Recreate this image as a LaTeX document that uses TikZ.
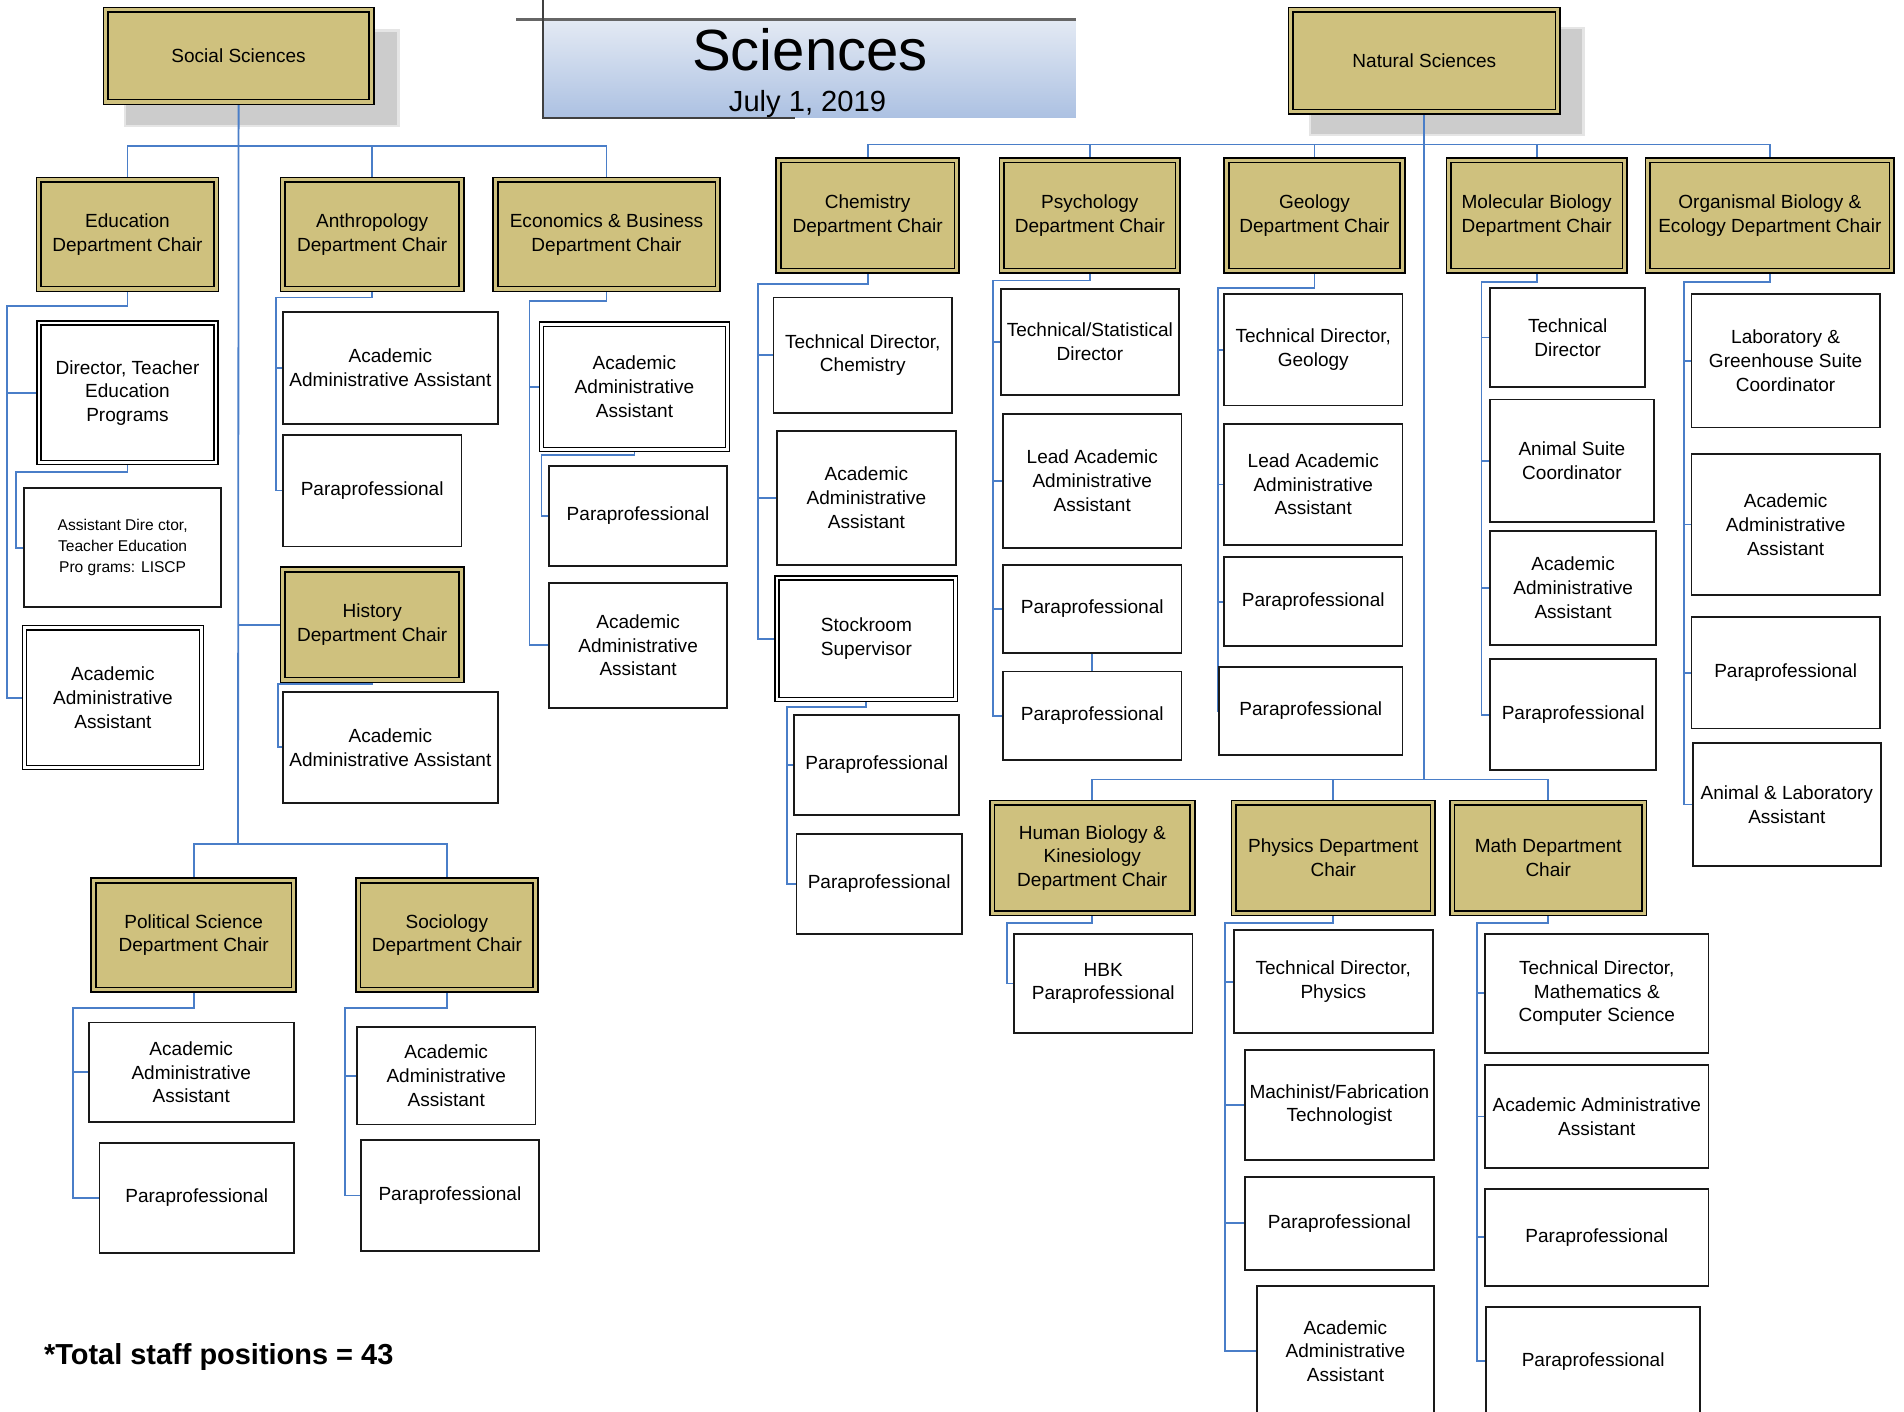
\documentclass[tikz,border=0pt]{standalone}
\usepackage{fontspec}
\setmainfont{Liberation Sans}
\usetikzlibrary{backgrounds}
\definecolor{goldc}{RGB}{207,193,126}
\definecolor{linec}{RGB}{74,126,200}
\definecolor{ttop}{RGB}{228,234,244}
\definecolor{tbot}{RGB}{172,193,226}
\newcommand\bx[7]{\node[#6, minimum width={(#4-#2)*0.6pt}, minimum height={(#5-#3)*0.6pt}] (#1) at ({(#2+#4)/2},{(#3+#5)/2}) {#7};}
\begin{document}
\begin{tikzpicture}[x=0.6pt,y=-0.6pt,
  base/.style={inner sep=1pt, outer sep=0pt, align=center, font=\fontsize{9.4}{11.7}\selectfont},
  goldbox/.style={base, draw=black, line width=0.8pt, double=goldc, double distance=1.5pt, fill=goldc},
  wbox/.style={base, draw=black!90, line width=0.9pt, fill=white},
  wdbl/.style={base, draw=black, line width=0.7pt, double=white, double distance=1.3pt, fill=white},
  conn/.style={draw=linec, line width=0.9pt}]
\useasboundingbox (0,0) rectangle (1568,1162);

% ---------- title ----------
\node[inner sep=0pt, outer sep=0pt, minimum width={439*0.6pt}, minimum height={81*0.6pt}, top color=ttop, bottom color=tbot] (title) at (666.5,56.5) {};
\draw[black!60, line width=1.1pt] (425,16) -- (title.north east);
\draw[black!75, line width=1.1pt] (447,0) -- (title.south west) -- (655,97);
\node[anchor=base, inner sep=0pt] (tsci) at (667,58) {\fontsize{28.7}{30}\selectfont Sciences};
\node[anchor=base, inner sep=0pt] (tdate) at (665,92) {\fontsize{14.4}{16}\selectfont July 1, 2019};

% ---------- top boxes ----------
\bx{ss}{87}{8}{306}{84}{goldbox}{Social Sciences}
\bx{ns}{1063}{8}{1283}{92}{goldbox}{Natural Sciences}

% ---------- social sciences ----------
\bx{edu}{32}{148}{178}{238}{goldbox}{Education\\Department Chair}
\bx{anth}{233}{148}{380}{238}{goldbox}{Anthropology\\Department Chair}
\bx{econ}{408}{148}{591}{238}{goldbox}{Economics \& Business\\Department Chair}
\bx{hist}{233}{469}{380}{560}{goldbox}{History\\Department Chair}
\bx{pol}{77}{725}{242}{815}{goldbox}{Political Science\\Department Chair}
\bx{soc}{295}{725}{441}{815}{goldbox}{Sociology\\Department Chair}

\bx{eduA}{32}{266}{178}{381}{wdbl}{Director, Teacher\\Education\\Programs}
\bx{eduB}{20}{402}{182}{500}{wbox,font=\fontsize{7.7}{10.5}\selectfont}{Assistant Dire ctor,\\Teacher Education\\Pro grams: LISCP}
\bx{eduC}{20}{517}{166}{632}{wdbl}{Academic\\Administrative\\Assistant}

\bx{anthA}{233}{257}{410}{349}{wbox}{Academic\\Administrative Assistant}
\bx{anthB}{233}{358}{380}{450}{wbox}{Paraprofessional}
\bx{histA}{233}{570}{410}{661}{wbox}{Academic\\Administrative Assistant}

\bx{econA}{446}{267}{599}{370}{wdbl}{Academic\\Administrative\\Assistant}
\bx{econB}{452}{384}{599}{466}{wbox}{Paraprofessional}
\bx{econC}{452}{480}{599}{583}{wbox}{Academic\\Administrative\\Assistant}

\bx{polA}{73}{842}{242}{924}{wbox}{Academic\\Administrative\\Assistant}
\bx{polB}{82}{941}{242}{1032}{wbox}{Paraprofessional}
\bx{socA}{294}{846}{441}{926}{wbox}{Academic\\Administrative\\Assistant}
\bx{socB}{297}{939}{444}{1030}{wbox}{Paraprofessional}

\node[anchor=base west, inner sep=0pt] (total) at (36,1124) {\fontsize{14.3}{16}\selectfont\bfseries *Total staff positions = 43};

% ---------- natural sciences ----------
\bx{chem}{641}{132}{788}{223}{goldbox}{Chemistry\\Department Chair}
\bx{psy}{825}{132}{970}{223}{goldbox}{Psychology\\Department Chair}
\bx{geo}{1010}{132}{1155}{223}{goldbox}{Geology\\Department Chair}
\bx{mol}{1193}{132}{1338}{223}{goldbox}{Molecular Biology\\Department Chair}
\bx{org}{1357}{132}{1558}{223}{goldbox}{Organismal Biology \&\\Ecology Department Chair}
\bx{hbk}{817}{661}{982}{752}{goldbox}{Human Biology \&\\Kinesiology\\Department Chair}
\bx{phy}{1016}{661}{1180}{752}{goldbox}{Physics Department\\Chair}
\bx{math}{1196}{661}{1354}{752}{goldbox}{Math Department\\Chair}

\bx{chemA}{637}{245}{784}{340}{wbox}{Technical Director,\\Chemistry}
\bx{chemB}{640}{355}{787}{465}{wbox}{Academic\\Administrative\\Assistant}
\bx{chemC}{640}{476}{787}{576}{wdbl}{Stockroom\\Supervisor}
\bx{chemD}{654}{589}{790}{671}{wbox}{Paraprofessional}
\bx{chemE}{656}{687}{792}{769}{wbox}{Paraprofessional}

\bx{psyA}{824}{238}{971}{325}{wbox}{Technical/Statistical\\Director}
\bx{psyB}{826}{341}{973}{451}{wbox}{Lead Academic\\Administrative\\Assistant}
\bx{psyC}{826}{465}{973}{538}{wbox}{Paraprofessional}
\bx{psyD}{826}{553}{973}{626}{wbox}{Paraprofessional}

\bx{geoA}{1008}{242}{1155}{334}{wbox}{Technical Director,\\Geology}
\bx{geoB}{1008}{349}{1155}{449}{wbox}{Lead Academic\\Administrative\\Assistant}
\bx{geoC}{1008}{459}{1155}{532}{wbox}{Paraprofessional}
\bx{geoD}{1004}{549}{1155}{622}{wbox}{Paraprofessional}

\bx{molA}{1227}{237}{1355}{319}{wbox}{Technical\\Director}
\bx{molB}{1227}{329}{1362}{430}{wbox}{Animal Suite\\Coordinator}
\bx{molC}{1227}{437}{1364}{531}{wbox}{Academic\\Administrative\\Assistant}
\bx{molD}{1227}{543}{1364}{634}{wbox}{Paraprofessional}

\bx{orgA}{1393}{242}{1548}{352}{wbox}{Laboratory \&\\Greenhouse Suite\\Coordinator}
\bx{orgB}{1393}{374}{1548}{490}{wbox}{Academic\\Administrative\\Assistant}
\bx{orgC}{1393}{508}{1548}{600}{wbox}{Paraprofessional}
\bx{orgD}{1394}{612}{1549}{713}{wbox}{Animal \& Laboratory\\Assistant}

\bx{hbkA}{835}{769}{982}{851}{wbox}{HBK\\Paraprofessional}

\bx{phyA}{1016}{766}{1180}{851}{wbox}{Technical Director,\\Physics}
\bx{phyB}{1025}{865}{1181}{955}{wbox}{Machinist/Fabrication\\Technologist}
\bx{phyC}{1025}{969}{1181}{1046}{wbox}{Paraprofessional}
\bx{phyD}{1035}{1059}{1181}{1166}{wbox}{Academic\\Administrative\\Assistant}

\bx{mathA}{1223}{769}{1407}{867}{wbox}{Technical Director,\\Mathematics \&\\Computer Science}
\bx{mathB}{1223}{877}{1407}{962}{wbox}{Academic Administrative\\Assistant}
\bx{mathC}{1223}{979}{1407}{1059}{wbox}{Paraprofessional}
\bx{mathD}{1224}{1076}{1400}{1166}{wbox}{Paraprofessional}

% ---------- background, shadows and connectors ----------
\begin{scope}[on background layer]
\fill[white] (0,0) rectangle (1568,1162);
\fill[black!10] (102,24) rectangle (329,105);
\fill[black!20] (104,26) rectangle (327,103);
\fill[black!10] (1078,22) rectangle (1305,112);
\fill[black!20] (1080,24) rectangle (1303,110);

\coordinate (ssBar) at (196,120);
\coordinate (ssLow) at (196,695);
\draw[conn] (ss.south) -- (ssLow);
\draw[conn] (ssBar) -| (edu.north);
\draw[conn] (ssBar) -| (anth.north);
\draw[conn] (ssBar) -| (econ.north);
\draw[conn] (ssLow) -| (pol.north);
\draw[conn] (ssLow) -| (soc.north);
\draw[conn] (ss.south |- hist.west) -- (hist.west);

\coordinate (eduBus) at (6,252);
\draw[conn] (edu.south) |- (eduBus) |- (eduA.west);
\draw[conn] (eduBus) |- (eduC.west);
\coordinate (eduABus) at (13,389);
\draw[conn] (eduA.south) |- (eduABus) |- (eduB.west);

\coordinate (anthBus) at (227,245);
\draw[conn] (anth.south) |- (anthBus) |- (anthA.west);
\draw[conn] (anthBus) |- (anthB.west);
\coordinate (histBus) at (229,563);
\draw[conn] (hist.south) |- (histBus) |- (histA.west);

\coordinate (econBus) at (436,248);
\draw[conn] (econ.south) |- (econBus) |- (econA.west);
\draw[conn] (econBus) |- (econC.west);
\coordinate (econABus) at (446,375);
\draw[conn] (econA.south) |- (econABus) |- (econB.west);

\coordinate (polBus) at (60,830);
\draw[conn] (pol.south) |- (polBus) |- (polA.west);
\draw[conn] (polBus) |- (polB.west);
\coordinate (socBus) at (284,830);
\draw[conn] (soc.south) |- (socBus) |- (socA.west);
\draw[conn] (socBus) |- (socB.west);

\coordinate (nsBar) at (1173,119);
\coordinate (nsLow) at (1173,642);
\draw[conn] (ns.south) -- (nsLow);
\draw[conn] (nsBar) -| (chem.north);
\draw[conn] (nsBar) -| (psy.north);
\draw[conn] (nsBar) -| (geo.north);
\draw[conn] (nsBar) -| (mol.north);
\draw[conn] (nsBar) -| (org.north);
\draw[conn] (nsLow) -| (hbk.north);
\draw[conn] (nsLow) -| (phy.north);
\draw[conn] (nsLow) -| (math.north);

\coordinate (chemBus) at (624,234);
\draw[conn] (chem.south) |- (chemBus) |- (chemA.west);
\draw[conn] (chemBus) |- (chemB.west);
\draw[conn] (chemBus) |- (chemC.west);
\coordinate (chemCBus) at (648,582);
\draw[conn] (chemC.south) |- (chemCBus) |- (chemD.west);
\draw[conn] (chemCBus) |- (chemE.west);

\coordinate (psyBus) at (818,231);
\draw[conn] (psy.south) |- (psyBus) |- (psyA.west);
\draw[conn] (psyBus) |- (psyB.west);
\draw[conn] (psyBus) |- (psyC.west);
\draw[conn] (psyBus) |- (psyD.west);
\draw[conn] (psyC.south) -- (psyD.north);

\coordinate (geoBus) at (1003,237);
\draw[conn] (geo.south) |- (geoBus) |- (geoA.west);
\draw[conn] (geoBus) |- (geoB.west);
\draw[conn] (geoBus) |- (geoC.west);
\draw[conn] (geoBus) |- (geoD.west);

\coordinate (molBus) at (1220,232);
\draw[conn] (mol.south) |- (molBus) |- (molA.west);
\draw[conn] (molBus) |- (molB.west);
\draw[conn] (molBus) |- (molC.west);
\draw[conn] (molBus) |- (molD.west);

\coordinate (orgBus) at (1387,232);
\draw[conn] (org.south) |- (orgBus) |- (orgA.west);
\draw[conn] (orgBus) |- (orgB.west);
\draw[conn] (orgBus) |- (orgC.west);
\draw[conn] (orgBus) |- (orgD.west);

\coordinate (hbkBus) at (829,760);
\draw[conn] (hbk.south) |- (hbkBus) |- (hbkA.west);

\coordinate (phyBus) at (1009,760);
\draw[conn] (phy.south) |- (phyBus) |- (phyA.west);
\draw[conn] (phyBus) |- (phyB.west);
\draw[conn] (phyBus) |- (phyC.west);
\draw[conn] (phyBus) |- (phyD.west);

\coordinate (mathBus) at (1216,760);
\draw[conn] (math.south) |- (mathBus) |- (mathA.west);
\draw[conn] (mathBus) |- (mathB.west);
\draw[conn] (mathBus) |- (mathC.west);
\draw[conn] (mathBus) |- (mathD.west);
\end{scope}
\end{tikzpicture}
\end{document}
